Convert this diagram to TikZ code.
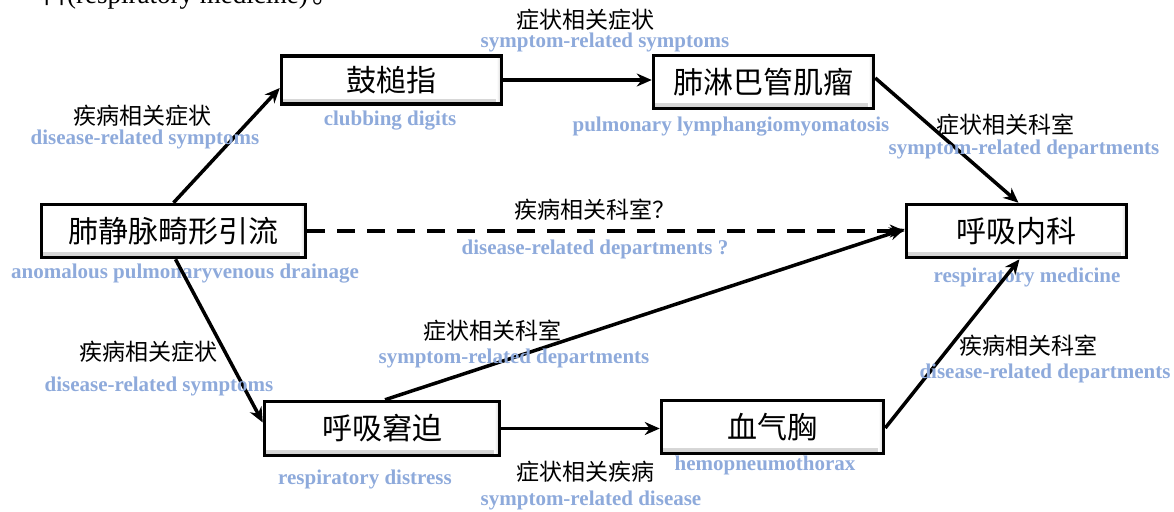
\documentclass[tikz,border=0pt]{standalone}
\usepackage{fontspec}
\setmainfont{Liberation Serif}
\newfontfamily\cjk{Noto Sans CJK SC}
\usetikzlibrary{arrows.meta}
\definecolor{lblue}{HTML}{8EAADB}
\tikzset{
  box/.style={draw=black, line width=3.5pt, fill=white, inner sep=0pt,
    font=\cjk\fontsize{30}{32}\selectfont,
    path picture={
      \shade[top color=white, bottom color=gray!35]
        ([yshift=5pt]path picture bounding box.south west) rectangle (path picture bounding box.south east);
      \shade[left color=white, right color=gray!35]
        ([xshift=-5pt]path picture bounding box.north east) rectangle (path picture bounding box.south east);
    }},
  zh/.style={font=\cjk\fontsize{23}{25}\selectfont, inner sep=0pt},
  en/.style={font=\bfseries\fontsize{21}{23}\selectfont, text=lblue, inner sep=0pt},
  arr/.style={line width=3.5pt, -{Stealth[length=15pt,width=13pt]}},
}
\begin{document}
\begin{tikzpicture}[x=1pt,y=-1pt]
\useasboundingbox (0,0) rectangle (1174,511);
\begin{scope}
\clip (0,0) rectangle (1174,511);
\node[anchor=base west, inner sep=0pt, font=\fontsize{27}{29}\selectfont] (top) at (40,4) {{\cjk 科}(respiratory medicine)\,{\cjk 。}};
\end{scope}
% boxes
\node[box, minimum width=264pt, minimum height=53pt] (a) at (173.5,231) {肺静脉畸形引流};
\node[box, minimum width=220pt, minimum height=48pt] (b) at (391.5,80) {鼓槌指};
\node[box, minimum width=220pt, minimum height=53pt] (c) at (763.5,82) {肺淋巴管肌瘤};
\node[box, minimum width=220pt, minimum height=53pt] (d) at (1016.5,231) {呼吸内科};
\node[box, minimum width=235pt, minimum height=54pt] (e) at (382,428.5) {呼吸窘迫};
\node[box, minimum width=222pt, minimum height=53pt] (f) at (772.5,427) {血气胸};
% box captions
\node[en] (ta) at (185,274) {anomalous pulmonaryvenous drainage};
\node[en] (tb) at (390,121) {clubbing digits};
\node[en] (tc) at (731,127) {pulmonary lymphangiomyomatosis};
\node[en] (td) at (1027,277) {respiratory medicine};
\node[en] (te) at (365,479) {respiratory distress};
\node[en] (tf) at (765,465) {hemopneumothorax};
% arrows
\draw[arr] (a.north) -- ([yshift=-8pt]b.west);
\draw[arr] (b.east) -- (b.east -| c.west);
\draw[arr] ([yshift=4pt]c.east) -- ([xshift=2pt]d.north);
\draw[arr, dashed, dash pattern=on 18pt off 12pt] (a.east) -- (d.west);
\draw[arr] ([xshift=2pt]a.south) -- ([yshift=6pt]e.west);
\draw[arr] ([xshift=3pt]e.north) -- ([yshift=2pt]d.west);
\draw[arr] (e.east) -- (e.east -| f.west);
\draw[arr] ([yshift=-1pt]f.east) -- ([xshift=3pt]d.south);
% edge labels
\node[zh] (l1) at (142,116) {疾病相关症状};
\node[en] (l1e) at (145,139) {disease-related symptoms};
\node[zh] (l2) at (585,20) {症状相关症状};
\node[en] (l2e) at (605,42) {symptom-related symptoms};
\node[zh] (l3) at (1005,125) {症状相关科室};
\node[en] (l3e) at (1024,149) {symptom-related departments};
\node[zh] (l4) at (595,210) {疾病相关科室？};
\node[en] (l4e) at (595,249) {disease-related departments ?};
\node[zh] (l5) at (148,352) {疾病相关症状};
\node[en] (l5e) at (159,386) {disease-related symptoms};
\node[zh] (l6) at (492,331) {症状相关科室};
\node[en] (l6e) at (514,358) {symptom-related departments};
\node[zh] (l7) at (1028,346) {疾病相关科室};
\node[en] (l7e) at (1045,373) {disease-related departments};
\node[zh] (l8) at (585,472) {症状相关疾病};
\node[en] (l8e) at (591,500) {symptom-related disease};
\end{tikzpicture}
\end{document}
